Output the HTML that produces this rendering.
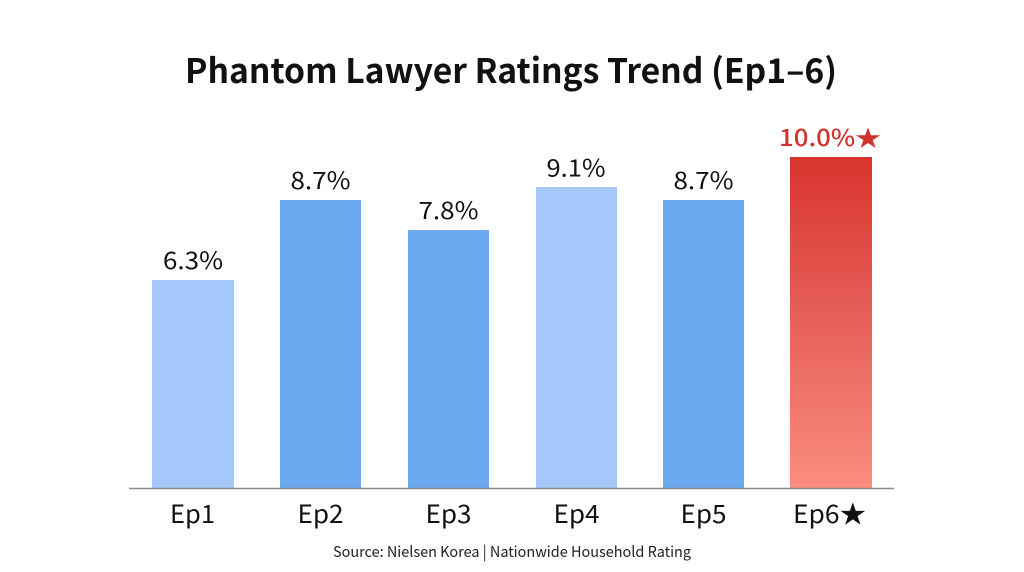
<!DOCTYPE html>
<html>
<head>
<meta charset="utf-8">
<style>
  html,body{margin:0;padding:0;background:#ffffff;}
  body{width:1024px;height:572px;overflow:hidden;}
  svg{display:block;}
  text{font-family:"Noto Sans CJK KR","Liberation Sans",sans-serif;}
</style>
</head>
<body>
<svg width="1024" height="572" viewBox="0 0 1024 572" xmlns="http://www.w3.org/2000/svg">
  <defs>
    <linearGradient id="red" x1="0" y1="0" x2="0" y2="1">
      <stop offset="0" stop-color="#d9332d"/>
      <stop offset="0.5" stop-color="#e6615a"/>
      <stop offset="1" stop-color="#fc8c80"/>
    </linearGradient>
  </defs>
  <rect width="1024" height="572" fill="#ffffff"/>

  <!-- Title -->
  <text x="511" y="83" text-anchor="middle" font-size="34" font-weight="bold" fill="#111" textLength="652" lengthAdjust="spacingAndGlyphs">Phantom Lawyer Ratings Trend (Ep1–6)</text>

  <!-- Bars -->
  <rect x="152" y="280" width="82" height="208" fill="#a5c8fa"/>
  <rect x="280" y="200" width="81" height="288" fill="#6ca9ee"/>
  <rect x="408" y="230" width="81" height="258" fill="#6ca9ee"/>
  <rect x="536" y="187" width="81" height="301" fill="#a5c8fa"/>
  <rect x="663" y="200" width="81" height="288" fill="#6ca9ee"/>
  <rect x="790" y="157" width="82" height="331" fill="url(#red)"/>

  <!-- Axis line -->
  <line x1="129" y1="488.5" x2="894" y2="488.5" stroke="#8a8a8a" stroke-width="1.5"/>

  <!-- Value labels -->
  <text x="193" y="269" text-anchor="middle" font-size="24" fill="#111" textLength="60" lengthAdjust="spacingAndGlyphs">6.3%</text>
  <text x="320.5" y="189" text-anchor="middle" font-size="24" fill="#111" textLength="60" lengthAdjust="spacingAndGlyphs">8.7%</text>
  <text x="448.5" y="219" text-anchor="middle" font-size="24" fill="#111" textLength="60" lengthAdjust="spacingAndGlyphs">7.8%</text>
  <text x="576" y="176.5" text-anchor="middle" font-size="24" fill="#111" textLength="59" lengthAdjust="spacingAndGlyphs">9.1%</text>
  <text x="703.5" y="189" text-anchor="middle" font-size="24" fill="#111" textLength="60" lengthAdjust="spacingAndGlyphs">8.7%</text>
  <text x="830" y="146" text-anchor="middle" font-size="23" font-weight="500" fill="#d0322e" textLength="102" lengthAdjust="spacingAndGlyphs">10.0%★</text>

  <!-- Category labels -->
  <text x="192.5" y="523" text-anchor="middle" font-size="25" fill="#111" textLength="45" lengthAdjust="spacingAndGlyphs">Ep1</text>
  <text x="320.5" y="523" text-anchor="middle" font-size="25" fill="#111" textLength="46" lengthAdjust="spacingAndGlyphs">Ep2</text>
  <text x="448.5" y="523" text-anchor="middle" font-size="25" fill="#111" textLength="46" lengthAdjust="spacingAndGlyphs">Ep3</text>
  <text x="576.5" y="523" text-anchor="middle" font-size="25" fill="#111" textLength="46" lengthAdjust="spacingAndGlyphs">Ep4</text>
  <text x="703.5" y="523" text-anchor="middle" font-size="25" fill="#111" textLength="46" lengthAdjust="spacingAndGlyphs">Ep5</text>
  <text x="829.5" y="523" text-anchor="middle" font-size="25" fill="#111" textLength="73" lengthAdjust="spacingAndGlyphs">Ep6★</text>

  <!-- Source -->
  <text x="512" y="557" text-anchor="middle" font-size="15" fill="#222" textLength="358" lengthAdjust="spacingAndGlyphs">Source: Nielsen Korea | Nationwide Household Rating</text>
</svg>
</body>
</html>
